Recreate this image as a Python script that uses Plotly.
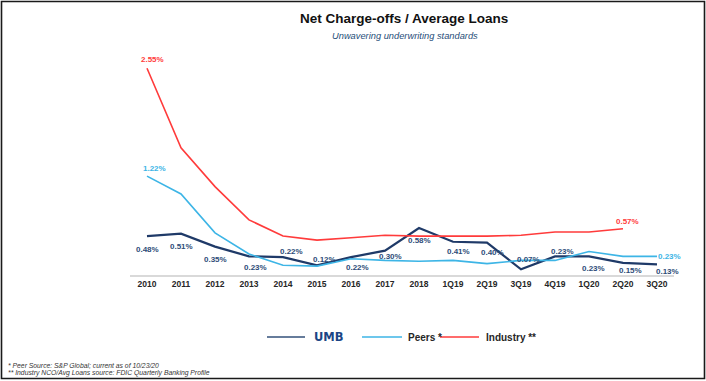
import plotly.graph_objects as go

# ---------------- data ----------------
categories = ["2010", "2011", "2012", "2013", "2014", "2015", "2016", "2017",
              "2018", "1Q19", "2Q19", "3Q19", "4Q19", "1Q20", "2Q20", "3Q20"]
umb = [0.48, 0.51, 0.35, 0.23, 0.22, 0.12, 0.22, 0.30,
       0.58, 0.41, 0.40, 0.07, 0.23, 0.23, 0.15, 0.13]
peers = [1.22, 1.00, 0.52, 0.26, 0.12, 0.11, 0.20, 0.18,
         0.17, 0.18, 0.14, 0.18, 0.18, 0.29, 0.23, 0.23]
industry = [2.55, 1.57, 1.09, 0.68, 0.48, 0.43, 0.46, 0.49,
            0.48, 0.48, 0.48, 0.49, 0.53, 0.53, 0.57, None]

# which points of Peers / Industry carry a label
peers_labelled = [0, 15]
industry_labelled = [0, 14]

# ---------------- style ----------------
W, H = 706, 381
FONT = "Liberation Sans, Arial, sans-serif"
C_UMB = "#1F3A68"
C_UMB_TXT = "#2E4C78"
C_PEERS = "#3DB5E6"
C_IND = "#FF3B3B"
C_TXT = "#262626"

# label offsets in px (dx right, dy down) for each UMB point
umb_off = [(0, 13), (0, 13), (0, 13), (6, 11), (8, -6), (7, -6), (6, 10), (5, 6),
           (0, 13), (5, 10), (5, 10), (7, -10), (7, -5), (4, 12), (7, 8), (10, 7)]
peers_off = {0: (7, -8), 15: (12, 0)}
ind_off = {0: (5, -9), 14: (4, -7)}

def px(x):
    return x / W

def py(y):
    return 1 - y / H

fig = go.Figure()
fig.add_trace(go.Scatter(x=categories, y=umb, mode="lines", name="UMB",
                         line=dict(color=C_UMB, width=2.2), showlegend=False))
fig.add_trace(go.Scatter(x=categories, y=peers, mode="lines", name="Peers *",
                         line=dict(color=C_PEERS, width=1.6), showlegend=False))
fig.add_trace(go.Scatter(x=categories, y=industry, mode="lines", name="Industry **",
                         line=dict(color=C_IND, width=1.6), showlegend=False,
                         connectgaps=False))

ann = []
lab_font = dict(family=FONT, size=8, weight="bold")
for i, v in enumerate(umb):
    dx, dy = umb_off[i]
    ann.append(dict(x=i, y=v, xref="x", yref="y", text=f"{v:.2f}%", showarrow=False,
                    xshift=dx, yshift=-dy, font=dict(lab_font, color=C_UMB_TXT)))
for i in peers_labelled:
    dx, dy = peers_off[i]
    ann.append(dict(x=i, y=peers[i], xref="x", yref="y",
                    text=f"{peers[i]:.2f}%", showarrow=False, xshift=dx, yshift=-dy,
                    font=dict(lab_font, color=C_PEERS)))
for i in industry_labelled:
    dx, dy = ind_off[i]
    ann.append(dict(x=i, y=industry[i], xref="x", yref="y",
                    text=f"{industry[i]:.2f}%", showarrow=False, xshift=dx, yshift=-dy,
                    font=dict(lab_font, color=C_IND)))

def paper_text(x, y, text, font, xanchor="center"):
    ann.append(dict(x=px(x), y=py(y), xref="paper", yref="paper", showarrow=False,
                    xanchor=xanchor, yanchor="middle", text=text, font=font))

# titles
paper_text(404, 18, "<b>Net Charge-offs / Average Loans</b>",
           dict(family=FONT, size=13.5, color="#111111"))
paper_text(405, 36, "<i>Unwavering underwriting standards</i>",
           dict(family=FONT, size=9.3, color="#1F4E79"))

# legend (drawn manually)
shapes = []
LEG_Y = 337
for (x0, x1, col, w) in [(267, 305, "#33507A", 1.6), (362, 402, C_PEERS, 1.6), (440, 479, C_IND, 1.6)]:
    shapes.append(dict(type="line", xref="paper", yref="paper", x0=px(x0), x1=px(x1),
                       y0=py(LEG_Y), y1=py(LEG_Y), line=dict(color=col, width=w)))
paper_text(312, LEG_Y, "<b>UMB</b>",
           dict(family="DejaVu Sans, sans-serif", size=11.5, color="#1B4585"), "left")
paper_text(406, LEG_Y, "<b>Peers *</b>", dict(family=FONT, size=10, color=C_TXT), "left")
paper_text(484, LEG_Y, "<b>Industry **</b>", dict(family=FONT, size=10, color=C_TXT), "left")

# footnotes
paper_text(6, 365, "<i>* Peer Source: S&P Global; current as of 10/23/20</i>",
           dict(family=FONT, size=6.8, color="#333333"), "left")
paper_text(6, 373, "<i>** Industry NCO/Avg Loans source: FDIC Quarterly Banking Profile</i>",
           dict(family=FONT, size=6.8, color="#333333"), "left")

# border
shapes.append(dict(type="rect", xref="paper", yref="paper", x0=px(1.5), x1=px(704.5),
                   y0=py(378.5), y1=py(1.5), line=dict(color="#1A1A1A", width=1.6)))

fig.update_layout(
    width=W, height=H,
    margin=dict(l=0, r=0, t=0, b=0),
    paper_bgcolor="white", plot_bgcolor="white",
    showlegend=False,
    annotations=ann, shapes=shapes,
    xaxis=dict(domain=[px(130), px(674)], type="category", range=[-0.5, 15.5],
               showgrid=False, zeroline=False, showline=True, linecolor="#D9D9D9",
               linewidth=2, ticks="", automargin=False,
               tickfont=dict(family=FONT, size=8.5, color=C_TXT, weight="bold")),
    yaxis=dict(domain=[py(275), py(48)], range=[0, 2.8], visible=False,
               showgrid=False, zeroline=False, automargin=False),
)

fig.write_html("out.html", config={"displayModeBar": False},
               post_script="document.body.style.margin='0';document.body.style.padding='0';")
